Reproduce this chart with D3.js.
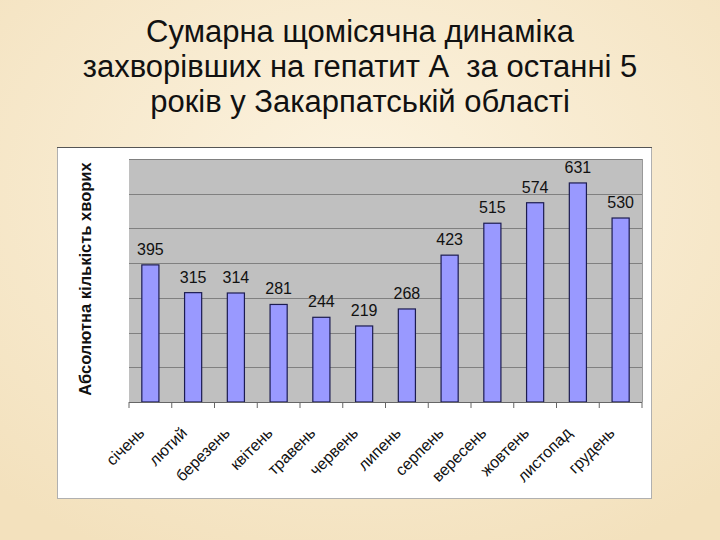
<!DOCTYPE html>
<html><head><meta charset="utf-8">
<script src="https://cdn.jsdelivr.net/npm/d3@7"></script>
<style>html,body{margin:0;padding:0;}svg{display:block;}</style>
</head><body>
<script>
const titleLines = ["Сумарна щомісячна динаміка", "захворівших на гепатит А  за останні 5", "років у Закарпатській області"];
const months = ["січень","лютий","березень","квітень","травень","червень","липень","серпень","вересень","жовтень","листопад","грудень"];
const cases = [395,315,314,281,244,219,268,423,515,574,631,530];
const yTicks = [0,100,200,300,400,500,600,700];
const yTitle = "Абсолютна кількість хворих";

const W=720,H=540;
const svg=d3.select("body").append("svg").attr("width",W).attr("height",H);
const defs=svg.append("defs");
const rg=defs.append("radialGradient").attr("id","bg").attr("cx","50%").attr("cy","35%").attr("r","75%");
rg.append("stop").attr("offset","0%").attr("stop-color","#fcf3e0");
rg.append("stop").attr("offset","100%").attr("stop-color","#f3e1bd");
svg.append("rect").attr("width",W).attr("height",H).attr("fill","url(#bg)");

const tg=svg.append("g");
titleLines.forEach((t,i)=>{
  tg.append("text").attr("x",360).attr("y",42+i*35).attr("text-anchor","middle")
    .style("white-space","pre")
    .attr("font-family","Liberation Sans, Arial, sans-serif").attr("font-size",31)
    .attr("fill","#111").text(t);
});

// panel
svg.append("rect").attr("x",57.5).attr("y",147.5).attr("width",594).attr("height",351)
  .attr("fill","#fff").attr("stroke","#b0b0b0").attr("stroke-width",1);
svg.append("line").attr("x1",57).attr("x2",652).attr("y1",147.5).attr("y2",147.5).attr("stroke","#555");

const m={l:129,r:642,t:159,b:402};
const x=d3.scaleBand().domain(months).range([m.l,m.r]).paddingInner(0.6).paddingOuter(0.3);
const y=d3.scaleLinear().domain([0,700]).range([m.b,m.t]);

svg.append("rect").attr("x",m.l).attr("y",m.t).attr("width",m.r-m.l).attr("height",m.b-m.t).attr("fill","#c0c0c0");
svg.append("g").selectAll("line").data(yTicks).join("line")
  .attr("x1",m.l).attr("x2",m.r).attr("y1",d=>Math.round(y(d))+0.5).attr("y2",d=>Math.round(y(d))+0.5)
  .attr("stroke","#808080").attr("stroke-width",1);
svg.append("line").attr("x1",m.r+0.5).attr("x2",m.r+0.5).attr("y1",m.t).attr("y2",m.b).attr("stroke","#999");

svg.append("g").selectAll("rect").data(cases).join("rect")
  .attr("x",(d,i)=>x(months[i])).attr("width",x.bandwidth())
  .attr("y",d=>y(d)).attr("height",d=>y(0)-y(d))
  .attr("fill","#9999ff").attr("stroke","#1c1c50").attr("stroke-width",1.2);

svg.append("g").selectAll("text").data(cases).join("text")
  .attr("x",(d,i)=>x(months[i])+x.bandwidth()/2).attr("y",d=>y(d)-10)
  .attr("text-anchor","middle").attr("font-family","Liberation Sans, Arial, sans-serif")
  .attr("font-size",16).attr("fill","#111").text(d=>d);

// x axis
const step=(m.r-m.l)/months.length;
const ax=svg.append("g");
ax.append("line").attr("x1",m.l).attr("x2",m.r).attr("y1",m.b+0.5).attr("y2",m.b+0.5).attr("stroke","#666");
ax.selectAll("line.t").data(d3.range(months.length+1)).join("line").attr("class","t")
  .attr("x1",i=>m.l+i*step).attr("x2",i=>m.l+i*step).attr("y1",m.b).attr("y2",m.b+6).attr("stroke","#666");
ax.selectAll("text").data(months).join("text")
  .attr("transform",d=>`translate(${x(d)+x.bandwidth()/2-5},${m.b+32}) rotate(-45)`)
  .attr("text-anchor","end").attr("font-family","Liberation Sans, Arial, sans-serif")
  .attr("font-size",16).attr("fill","#111").text(d=>d);

svg.append("text").attr("transform",`translate(91,279) rotate(-90)`)
  .attr("text-anchor","middle").attr("font-family","Liberation Sans, Arial, sans-serif")
  .attr("font-size",16.5).attr("font-weight","bold").attr("fill","#111").text(yTitle);
</script>
</body></html>
